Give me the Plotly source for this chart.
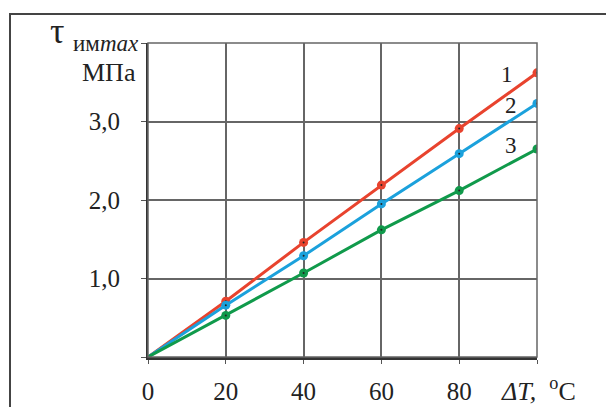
import plotly.graph_objects as go

dT = [0, 20, 40, 60, 80, 100]
tau1 = [0, 0.71, 1.46, 2.19, 2.91, 3.62]
tau2 = [0, 0.66, 1.29, 1.95, 2.59, 3.23]
tau3 = [0, 0.53, 1.07, 1.62, 2.12, 2.65]
series = [("1", tau1, "#E8432E"), ("2", tau2, "#1BA1DC"), ("3", tau3, "#109A4B")]
xticks = [0, 20, 40, 60, 80, 100]
xticktext = ["0", "20", "40", "60", "80", ""]
yticks = [0, 1, 2, 3, 4]
yticktext = ["", "1,0", "2,0", "3,0", ""]
labels = [("1", 92.3, 3.60), ("2", 93.4, 3.21), ("3", 93.4, 2.70)]

FONT = "Liberation Serif"
L, R, T, B = 148, 537, 43, 357  # plot area in page pixels
W, H = 606, 407

def px(x):
    return (x - L) / (R - L)

def py(y):
    return (B - y) / (B - T)

fig = go.Figure()
for name, ys, col in series:
    fig.add_trace(go.Scatter(x=dT[1:], y=ys[1:], mode="markers", showlegend=False,
                             marker=dict(size=9, color=col), hoverinfo="skip"))
    fig.add_trace(go.Scatter(x=dT, y=ys, mode="lines", showlegend=False,
                             line=dict(color=col, width=3)))
    fig.add_trace(go.Scatter(x=dT[1:], y=ys[1:], mode="markers", showlegend=False,
                             marker=dict(size=2, color="#222"), hoverinfo="skip"))

fig.update_layout(
    width=W, height=H,
    margin=dict(l=L, r=W - R, t=T, b=H - B, pad=0),
    paper_bgcolor="white", plot_bgcolor="white",
    font=dict(family=FONT, size=25, color="#222"),
    xaxis=dict(range=[0, 100], tickvals=xticks, ticktext=xticktext,
               showgrid=True, gridcolor="#666", gridwidth=1.5,
               showline=True, linecolor="#333", linewidth=2.5,
               ticks="outside", ticklen=4, tickcolor="#555",
               ticklabelstandoff=6, zeroline=False, automargin=False),
    yaxis=dict(range=[0, 4], tickvals=yticks, ticktext=yticktext,
               showgrid=True, gridcolor="#666", gridwidth=1.5,
               showline=True, linecolor="#333", linewidth=2,
               ticks="outside", ticklen=5, tickcolor="#555",
               ticklabelstandoff=16, zeroline=False, automargin=False),
)

# outer frame
fig.add_shape(type="rect", xref="paper", yref="paper",
              x0=px(10), x1=1.5, y0=-0.5, y1=py(14),
              line=dict(color="#444", width=2), layer="below")
# right/top border of plot area
fig.add_shape(type="rect", xref="paper", yref="paper", x0=0, x1=1, y0=0, y1=1,
              line=dict(color="#666", width=1.5), layer="above")

for t, x, y in labels:
    fig.add_annotation(x=x, y=y, text=t, showarrow=False, xanchor="center", yanchor="middle",
                       font=dict(size=23, family=FONT))

fig.add_annotation(xref="paper", yref="paper", x=px(57), y=py(31),
                   xanchor="center", yanchor="middle",
                   text="τ", showarrow=False, font=dict(size=36, family=FONT))
fig.add_annotation(xref="paper", yref="paper", x=px(71), y=py(43),
                   xanchor="left", yanchor="middle", text="им<i>max</i>", showarrow=False,
                   font=dict(size=23, family=FONT))
fig.add_annotation(xref="paper", yref="paper", x=px(138), y=py(72),
                   xanchor="right", yanchor="middle", text="МПа", showarrow=False,
                   font=dict(size=26, family=FONT))
fig.add_annotation(xref="paper", yref="paper", x=px(538), y=py(389),
                   xanchor="center", yanchor="middle",
                   text="<i>ΔT,</i>  <sup>o</sup>C", showarrow=False,
                   font=dict(size=26, family=FONT))

fig.write_html("out.html",
               config={"displayModeBar": False},
               post_script="document.body.style.margin='0';"
                           "document.documentElement.style.overflow='hidden';")
